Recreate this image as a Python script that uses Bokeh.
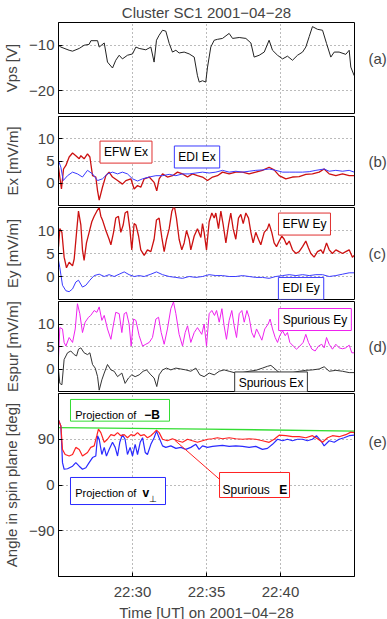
from bokeh.plotting import figure
from bokeh.layouts import column
from bokeh.models import Range1d, FixedTicker, Label, BoxAnnotation, LinearAxis
from bokeh.embed import file_html
from bokeh.resources import INLINE

# ---------------- data (time in minutes after 22:25 UT, 2001-04-28) ----------------
vps_t = [0, 0.16, 0.72, 0.95, 1.40, 1.73, 2.07, 2.19, 2.64, 2.75, 3.09, 3.31, 3.65, 3.87, 4.10, 4.32, 4.66, 5.00, 5.23, 5.45,
         5.90, 6.24, 6.46, 6.62, 6.80, 7.03, 7.25, 7.48, 7.70, 7.93, 8.15, 8.49, 8.83, 9.17, 9.39, 9.51, 9.73, 9.95, 10.07, 10.29,
         10.52, 10.74, 11.08, 11.53, 11.76, 12.21, 12.66, 13.00, 13.22, 13.56, 13.90, 14.23, 14.46, 14.80, 15.14, 15.47, 15.81, 16.15, 16.49, 16.71,
         16.94, 17.16, 17.50, 17.84, 18.11, 18.40, 18.63, 18.96, 19.41, 19.64, 19.75, 19.98]
vps_v = [-10, -10.4, -11.1, -11.3, -10.7, -10, -9.8, -9, -9, -10.4, -9.5, -13.7, -15, -13.3, -12.2, -13, -12.2, -11.9, -10.4, -10.7,
         -11, -10.4, -13.7, -8.9, -7.8, -6.7, -6.9, -9.6, -11.5, -11.1, -11.7, -11.5, -11.9, -12.6, -16.7, -18.1, -17.8, -18.1, -14.8, -10.4,
         -8.9, -8.7, -8.5, -7.4, -8.5, -8.3, -8.5, -9.5, -12.6, -12.2, -11.5, -8.9, -11.1, -12.2, -13, -12.4, -13.3, -12.2, -11.5, -10.4,
         -8.1, -5.9, -6.5, -6.7, -9.6, -12.6, -11.5, -11.5, -12, -11.1, -14.8, -16.7]

efw_ex_t = [0, 0.20, 0.34, 0.50, 0.72, 0.95, 1.17, 1.40, 1.51, 1.73, 1.96, 2.12, 2.30, 2.52, 2.64, 2.75, 2.97, 3.20, 3.42, 3.65,
            3.99, 4.32, 4.55, 4.89, 5.11, 5.34, 5.56, 5.79, 6.13, 6.46, 6.64, 6.80, 7.03, 7.36, 7.70, 8.04, 8.38, 8.72, 9.05, 9.39,
            9.73, 10.07, 10.41, 10.74, 11.08, 11.53, 11.98, 12.43, 12.88, 13.33, 13.78, 14.23, 14.57, 14.91, 15.36, 15.81, 16.26, 16.71, 17.16, 17.61,
            17.95, 18.29, 18.74, 19.19, 19.64, 19.98]
efw_ex_v = [3.6, -1.3, 3.2, 4.0, 5.9, 6.8, 6.2, 5.5, 6.2, 5.5, 6.6, 5.9, 1.7, 1.4, -1.7, -3.8, -0.9, 1.7, 2.5, 1.4,
            0.6, -0.2, 0.6, 1.0, -1.3, -0.5, -0.9, 1.0, 1.4, 0.2, -1.7, 1.0, 2.1, 1.4, 1.7, 2.5, 2.1, 1.4, 2.1, 1.7,
            1.4, 0.6, 1.4, 1.7, 2.5, 2.1, 2.5, 2.5, 2.1, 2.5, 2.9, 3.6, 3.0, 1.7, 1.0, 1.4, 1.5, 2.0, 2.1, 2.5,
            3.2, 2.1, 1.7, 2.1, 1.7, 1.7]

edi_ex_t = [0, 0.16, 0.32, 0.61, 0.95, 1.28, 1.62, 1.96, 2.30, 2.64, 2.97, 3.31, 3.65, 3.99, 4.32, 4.66, 5.00, 5.34, 5.68, 6.13,
            6.58, 7.03, 7.48, 7.93, 8.38, 8.83, 9.28, 9.73, 10.18, 10.63, 11.08, 11.53, 11.98, 12.43, 12.88, 13.33, 13.78, 14.23, 14.68, 15.14,
            15.59, 16.04, 16.49, 16.94, 17.39, 17.95, 18.29, 18.74, 19.19, 19.64, 19.98]
edi_ex_v = [5.1, 3.6, 0.6, 1.7, 2.5, 2.1, 1.4, 2.9, 2.1, 0.6, 1.0, 2.1, 2.5, 2.1, 2.5, 2.1, 1.0, 0.5, 1.0, 1.4,
            1.7, 1.7, 2.0, 1.7, 2.1, 2.1, 2.3, 2.5, 2.3, 2.5, 2.9, 2.5, 2.7, 2.5, 2.7, 2.9, 3.0, 3.2, 2.9, 2.5,
            2.5, 2.5, 2.5, 2.6, 2.9, 3.2, 2.7, 2.9, 2.7, 2.9, 2.5]

efw_ey_t = [0.00, 0.09, 0.23, 0.38, 0.54, 0.72, 0.95, 1.06, 1.22, 1.35, 1.51, 1.62, 1.73, 1.89, 2.07, 2.25, 2.41, 2.59, 2.75, 2.86,
            2.97, 3.20, 3.42, 3.54, 3.72, 3.87, 4.05, 4.21, 4.37, 4.50, 4.66, 4.82, 4.95, 5.11, 5.23, 5.41, 5.56, 5.79, 6.01, 6.24,
            6.46, 6.62, 6.80, 6.98, 7.14, 7.30, 7.48, 7.66, 7.82, 7.97, 8.15, 8.33, 8.49, 8.65, 8.83, 8.94, 9.17, 9.39, 9.62, 9.73,
            9.84, 10.00, 10.18, 10.36, 10.52, 10.63, 10.81, 10.97, 11.13, 11.31, 11.49, 11.64, 11.80, 11.98, 12.16, 12.32, 12.48, 12.66, 12.84, 13.00,
            13.15, 13.33, 13.51, 13.67, 13.90, 14.12, 14.23, 14.41, 14.57, 14.73, 14.91, 15.09, 15.25, 15.41, 15.59, 15.81, 16.04, 16.26, 16.49, 16.71,
            16.89, 17.05, 17.27, 17.50, 17.73, 17.88, 18.11, 18.29, 18.51, 18.74, 18.96, 19.19, 19.41, 19.64, 19.86, 19.98]
efw_ey_v = [6.5, 10.4, 9.6, 4.2, 1.9, 3.1, 2.3, 3.8, 9.6, 14.2, 11.2, 5.8, 3.5, 7.3, 9.6, 11.9, 13.1, 14.2, 15, 13.1,
            12.3, 10, 8.1, 6.9, 9.6, 12.7, 13.1, 9.6, 11.2, 13.8, 14.2, 10.4, 5.8, 11.5, 11.2, 8.8, 5.8, 4.6, 5.8, 5.4,
            8.1, 12.3, 12.7, 8.5, 5.4, 8.1, 10.4, 14.2, 15.4, 12.7, 8.1, 5.8, 7.3, 10, 8.1, 5.8, 8.8, 10.4, 8.5, 11.5,
            9.6, 5.8, 11.9, 13.8, 12.7, 13.8, 10.4, 14.2, 11.2, 7.3, 11.2, 13.8, 10.4, 8.1, 12.7, 13.5, 11.5, 13.8, 12.7, 9.6,
            7.3, 9.6, 8.1, 6.9, 9.6, 10.4, 11.5, 9.6, 7.3, 6.5, 7.7, 8.8, 8.1, 6.9, 7.7, 5.8, 5, 5.4, 6.5, 7.7,
            6.2, 5, 4.2, 5.4, 5.8, 5, 7.3, 5.8, 5, 5.8, 5.4, 5, 5.4, 5.8, 4.2, 4.6]

edi_ey_t = [0, 0.09, 0.27, 0.50, 0.72, 0.95, 1.17, 1.35, 1.62, 1.85, 2.12, 2.41, 2.75, 3.09, 3.42, 3.76, 4.10, 4.44, 4.77, 5.11,
            5.45, 5.79, 6.24, 6.62, 7.03, 7.48, 7.93, 8.38, 8.83, 9.28, 9.73, 10.18, 10.63, 11.08, 11.53, 11.98, 12.43, 12.88, 13.33, 13.78,
            14.23, 14.68, 15.14, 15.59, 16.04, 16.49, 16.94, 17.39, 17.84, 18.29, 18.74, 19.19, 19.64, 19.98]
edi_ey_v = [3.5, 1.9, -1.9, -3.1, -3.3, -2.7, -1.2, -0.8, -2.3, -1.9, -0.8, 0.2, 0.5, 0, 0.4, 0, 0.5, 1.0, 0.4, 0,
            0.2, 0, 0.5, 1.0, 0.4, 0, -0.2, -0.4, 0, -0.2, 0, 0.4, 0.2, 0.2, 0, 0, 0.2, 0, -0.2, -0.2,
            -0.4, 0, 0.2, 0.4, 0.2, 0.4, 0.2, 0.4, 0.4, 0, 0.2, 0.5, 0.8, 0.8]

spur_ey_t = [0.00, 0.09, 0.27, 0.38, 0.50, 0.72, 0.95, 1.13, 1.28, 1.44, 1.62, 1.80, 2.03, 2.18, 2.41, 2.59, 2.75, 2.93, 3.09, 3.31,
             3.54, 3.72, 3.87, 4.10, 4.28, 4.44, 4.59, 4.77, 4.91, 5.07, 5.23, 5.45, 5.68, 5.90, 6.13, 6.35, 6.58, 6.76, 6.94, 7.14,
             7.36, 7.59, 7.77, 7.93, 8.15, 8.38, 8.56, 8.72, 8.94, 9.17, 9.39, 9.68, 9.84, 10.00, 10.18, 10.36, 10.54, 10.68, 10.86, 11.04,
             11.19, 11.35, 11.53, 11.71, 11.87, 12.03, 12.21, 12.39, 12.55, 12.73, 12.88, 13.06, 13.22, 13.38, 13.56, 13.74, 13.94, 14.17, 14.30, 14.46,
             14.64, 14.80, 14.95, 15.14, 15.32, 15.47, 15.63, 15.86, 16.08, 16.31, 16.53, 16.71, 16.89, 17.12, 17.34, 17.57, 17.79, 17.95, 18.11, 18.29,
             18.51, 18.74, 18.96, 19.19, 19.41, 19.64, 19.82, 19.98]
spur_ey_v = [2.5, 9.2, 8.9, 5.9, 5.1, 7.0, 5.9, 8.9, 14.5, 12.3, 8.1, 10.4, 11.5, 11.9, 13.0, 12.6, 13.8, 10.8, 11.9, 8.9,
             6.6, 10, 12.6, 12.3, 8.1, 12.3, 12.6, 10, 5.1, 11.1, 10.8, 7.4, 5.1, 5.5, 5.9, 7.0, 11.1, 11.5, 8.1, 5.5,
             8.9, 13.4, 14.9, 12.3, 7.7, 5.1, 8.1, 9.6, 5.9, 8.1, 9.2, 7.7, 10, 5.1, 12.3, 13.0, 11.9, 13.0, 10.4, 13.4,
             9.6, 6.6, 10.8, 13.0, 9.6, 7.0, 12.3, 13.0, 10.4, 13.0, 11.5, 8.1, 7.0, 8.9, 7.7, 6.4, 8.9, 10, 11.1, 8.9,
             7.0, 5.9, 7.4, 8.5, 7.4, 8.1, 5.9, 5.1, 4.4, 5.1, 5.9, 7.7, 5.9, 4.4, 4.0, 5.1, 5.5, 4.7, 7.0, 5.5,
             4.4, 5.5, 4.7, 4.5, 4.7, 5.3, 3.6, 3.6]

spur_ex_t = [0.00, 0.09, 0.23, 0.38, 0.61, 0.83, 1.06, 1.22, 1.35, 1.51, 1.73, 1.96, 2.12, 2.30, 2.48, 2.64, 2.75, 2.93, 3.09, 3.31,
             3.54, 3.76, 3.99, 4.28, 4.50, 4.73, 4.95, 5.18, 5.45, 5.72, 5.95, 6.24, 6.46, 6.64, 6.80, 7.03, 7.30, 7.59, 7.93, 8.27,
             8.60, 8.94, 9.28, 9.55, 9.84, 10.18, 10.52, 10.86, 11.19, 11.53, 11.98, 12.43, 12.88, 13.33, 13.78, 14.12, 14.35, 14.57, 14.91, 15.36,
             15.81, 16.26, 16.71, 17.16, 17.61, 17.95, 18.29, 18.74, 19.19, 19.64, 19.98]
spur_ex_v = [-0.2, -3.2, -3.5, 2.1, 3.6, 4.0, 3.2, 2.9, 4.4, 4.7, 3.6, 3.2, 3.6, 1.0, 0.2, -1.7, -4.7, -2.4, -0.9, 1.0,
             -0.2, -0.5, -1.7, -0.9, -3.2, -2.0, -1.3, -1.7, -1.3, -0.5, -0.2, -1.3, -2.0, -3.9, -1.3, -0.2, 0.2, -0.2, 0.2, 0,
             -0.2, -0.5, 0.2, -1.3, -1.7, -0.9, -1.3, -0.5, -0.2, -0.5, -0.9, -0.8, -0.5, -0.3, 0.2, 0.6, 0.8, 0.2, -0.8, -1.1,
             -0.8, -0.5, -0.3, -0.2, 0, 0.5, -0.5, -0.3, -0.5, -0.8, -0.8]

ang_e_t = [0.00, 0.16, 0.27, 0.45, 0.72, 0.95, 1.17, 1.40, 1.62, 1.96, 2.18, 2.41, 2.59, 2.70, 2.86, 3.09, 3.31, 3.54, 3.76, 3.99,
           4.21, 4.44, 4.66, 4.89, 5.11, 5.34, 5.56, 5.79, 6.01, 6.24, 6.46, 6.62, 6.80, 7.03, 7.36, 7.70, 8.04, 8.38, 8.72, 9.05,
           9.39, 9.73, 10.07, 10.41, 10.74, 11.08, 11.53, 11.98, 12.43, 12.88, 13.33, 13.78, 14.23, 14.57, 14.91, 15.36, 15.81, 16.26, 16.71, 17.16,
           17.50, 17.84, 18.18, 18.51, 18.96, 19.41, 19.75, 19.98]
ang_e_v = [128, 116, 70, 60, 57, 60, 74, 70, 57, 64, 74, 77, 97, 110, 103, 84, 90, 99, 97, 103,
           97, 99, 93, 99, 97, 103, 97, 99, 93, 97, 103, 108, 103, 90, 87, 91, 87, 84, 90, 87,
           84, 87, 90, 91, 93, 91, 93, 91, 90, 91, 90, 87, 84, 90, 98, 97, 95, 95, 93, 97,
           91, 84, 93, 97, 95, 99, 104, 103]

ang_v_t = [0.00, 0.16, 0.27, 0.38, 0.61, 0.95, 1.17, 1.40, 1.62, 1.85, 2.07, 2.30, 2.52, 2.64, 2.75, 2.93, 3.09, 3.24, 3.42, 3.65,
           3.83, 3.99, 4.14, 4.32, 4.50, 4.66, 4.84, 5.00, 5.18, 5.34, 5.52, 5.68, 5.86, 6.01, 6.24, 6.46, 6.62, 6.80, 7.03, 7.25,
           7.59, 7.93, 8.27, 8.60, 8.94, 9.28, 9.50, 9.73, 10.07, 10.41, 10.74, 11.08, 11.53, 11.98, 12.43, 12.88, 13.33, 13.78, 14.12, 14.46,
           14.80, 15.14, 15.47, 15.81, 16.15, 16.49, 16.82, 17.16, 17.43, 17.73, 17.95, 18.29, 18.63, 18.96, 19.30, 19.64, 19.98]
ang_v_v = [128, 116, 44, 31, 32, 37, 44, 37, 31, 34, 44, 54, 57, 97, 90, 60, 74, 57, 70, 84,
           74, 57, 84, 99, 90, 60, 74, 57, 80, 60, 84, 93, 64, 60, 80, 93, 106, 93, 77, 74,
           77, 72, 74, 70, 74, 80, 70, 77, 74, 76, 77, 78, 76, 77, 76, 74, 76, 70, 72, 80,
           90, 87, 90, 87, 90, 90, 87, 90, 97, 87, 77, 87, 84, 90, 93, 97, 98]

ang_b_t = [0.0, 10.0, 20.0]
ang_b_v = [113, 110, 106]

# time axis: minutes after 22:00 UT
T_START = 25
T_END = 45
x_ticks = [30, 35, 40]
x_tick_labels = ["22:30", "22:35", "22:40"]

# annotation anchors (minutes after 22:25, data value)
spur_e_leader_t = [7.86, 10.97]
spur_e_leader_v = [88, 9]

FONT = "Liberation Sans"


def tx(ms):
    return [T_START + m for m in ms]


def make_fig(ylo, yhi, yticks, ylabel, frame_h, top, bottom, label_standoff,
             tag_text, tag_value, overrides=None, show_x=False):
    p = figure(frame_width=296, frame_height=frame_h,
               x_range=Range1d(T_START, T_END), y_range=Range1d(ylo, yhi),
               output_backend="svg", toolbar_location=None,
               min_border_left=56, min_border_right=35,
               min_border_top=top, min_border_bottom=bottom)
    p.outline_line_color = "black"
    p.outline_line_width = 1
    p.outline_line_alpha = 1
    p.background_fill_color = "white"
    p.border_fill_color = "white"
    for g in (p.xgrid, p.ygrid):
        g.grid_line_color = "#777777"
        g.grid_line_dash = "1 3"
        g.grid_line_width = 1
    p.xgrid.ticker = FixedTicker(ticks=x_ticks)
    p.ygrid.ticker = FixedTicker(ticks=yticks)
    ya = p.yaxis[0]
    ya.ticker = FixedTicker(ticks=yticks)
    ya.axis_label = ylabel
    ya.axis_label_text_font = FONT
    ya.axis_label_text_font_size = "15px"
    ya.axis_label_text_font_style = "normal"
    ya.axis_label_standoff = label_standoff
    ya.major_label_text_font = FONT
    ya.major_label_text_font_size = "15px"
    ya.major_label_standoff = 4
    ya.major_tick_in = 4
    ya.major_tick_out = 0
    ya.minor_tick_line_color = None
    ya.axis_line_color = "black"
    if overrides:
        ya.major_label_overrides = overrides
    # right-hand panel tag, e.g. "(a)"
    ra = LinearAxis(ticker=FixedTicker(ticks=[tag_value]),
                    major_label_overrides={tag_value: tag_text},
                    major_tick_line_color=None, minor_tick_line_color=None,
                    major_tick_in=0, major_tick_out=0, minor_tick_in=0, minor_tick_out=0,
                    axis_line_color=None, major_label_standoff=14,
                    major_label_text_font=FONT, major_label_text_font_size="15px")
    p.add_layout(ra, "right")
    xa = p.xaxis[0]
    if show_x:
        xa.ticker = FixedTicker(ticks=x_ticks)
        xa.major_label_overrides = dict(zip(x_ticks, x_tick_labels))
        xa.axis_label = "Time [UT] on 2001\u221204\u221228"
        xa.axis_label_text_font = FONT
        xa.axis_label_text_font_size = "15px"
        xa.axis_label_text_font_style = "normal"
        xa.axis_label_standoff = 1
        xa.major_label_text_font = FONT
        xa.major_label_text_font_size = "15px"
        xa.major_label_standoff = 6
        xa.major_tick_in = 4
        xa.major_tick_out = 0
        xa.minor_tick_line_color = None
    else:
        xa.visible = False
    return p


def boxlabel(p, text, t, v, color):
    p.add_layout(Label(x=T_START + t, y=v, text=text, text_align="center", text_baseline="middle",
                       text_font=FONT, text_font_size="12px", text_color="black",
                       border_line_color=color, border_line_width=1, border_line_alpha=1,
                       background_fill_color="white", background_fill_alpha=1, padding=4))


def txt(p, text, t, v, size="12px", bold=False):
    p.add_layout(Label(x=T_START + t, y=v, text=text, text_align="left", text_baseline="alphabetic",
                       text_font=FONT, text_font_size=size, text_color="black",
                       text_font_style="bold" if bold else "normal"))


# (a) spacecraft potential
pa = make_fig(-25, -5, [-20, -10], "Vps [V]", 91, 22, 1, 6, "(a)", -13,
              {-20: "\u221220", -10: "\u221210"})
pa.title.text = "Cluster SC1 2001\u221204\u221228"
pa.title.align = "center"
pa.title.vertical_align = "top"
pa.title.text_font = FONT
pa.title.text_font_size = "15px"
pa.title.text_font_style = "normal"
pa.title.standoff = 0
pa.line(tx(vps_t), vps_v, color="#222222", line_width=1)

# (b) Ex
pb = make_fig(-5, 15, [0, 5, 10], "Ex [mV/m]", 89, 2, 1, 14, "(b)", 5)
pb.line(tx(efw_ex_t), efw_ex_v, color="#cc1111", line_width=1.3)
pb.line(tx(edi_ex_t), edi_ex_v, color="#3a3aff", line_width=1)
boxlabel(pb, "EFW Ex", 4.56, 7.0, "#e03030")
boxlabel(pb, "EDI Ex", 9.36, 5.9, "#3a3aff")

# (c) Ey
pc = make_fig(-5, 15, [0, 5, 10], "Ey [mV/m]", 92, 1, 1, 14, "(c)", 5)
pc.line(tx(efw_ey_t), efw_ey_v, color="#cc1111", line_width=1.3)
pc.line(tx(edi_ey_t), edi_ey_v, color="#3a3aff", line_width=1)
boxlabel(pc, "EFW Ey", 16.62, 11.4, "#e03030")
boxlabel(pc, "EDI Ey", 16.39, -2.6, "#3a3aff")

# (d) spurious field
pd_ = make_fig(-5, 15, [0, 5, 10], "Espur [mV/m]", 90, 1, 1, 14, "(d)", 5)
pd_.line(tx(spur_ey_t), spur_ey_v, color="#ee22ee", line_width=1)
pd_.line(tx(spur_ex_t), spur_ex_v, color="#333333", line_width=1)
boxlabel(pd_, "Spurious Ey", 17.33, 11.0, "#ee22ee")
boxlabel(pd_, "Spurious Ex", 14.36, -3.1, "#333333")

# (e) angles
pe = make_fig(-180, 180, [-90, 0, 90], "Angle in spin plane [deg]", 183, 1, 43, 6, "(e)", 85,
              {-90: "\u221290"}, show_x=True)
pe.line(tx(ang_b_t), ang_b_v, color="#33dd33", line_width=1.3)
pe.line(tx(ang_v_t), ang_v_v, color="#2a2aff", line_width=1.2)
pe.line(tx(ang_e_t), ang_e_v, color="#ff2222", line_width=1.2)
pe.line(tx(spur_e_leader_t), spur_e_leader_v, color="#ff2222", line_width=1)

pe.add_layout(BoxAnnotation(left=T_START + 0.81, right=T_START + 7.50, bottom=125.6, top=168.3,
                            fill_color="white", fill_alpha=1, line_color="#33dd33", line_alpha=1, line_width=1))
txt(pe, "Projection of", 1.13, 136.8, size="11px")
txt(pe, "\u2212B", 5.79, 136.8, bold=True)

pe.add_layout(BoxAnnotation(left=T_START + 0.81, right=T_START + 7.23, bottom=-38.4, top=14.8,
                            fill_color="white", fill_alpha=1, line_color="#2a2aff", line_alpha=1, line_width=1))
txt(pe, "Projection of", 1.13, -16.1, size="11px")
txt(pe, "v", 5.68, -16.1, bold=True)
txt(pe, "\u22a5", 6.12, -28.5, size="9px")

pe.add_layout(BoxAnnotation(left=T_START + 10.88, right=T_START + 15.61, bottom=-24.6, top=24.6,
                            fill_color="white", fill_alpha=1, line_color="#ff2222", line_alpha=1, line_width=1))
txt(pe, "Spurious", 11.08, -10.8)
txt(pe, "E", 14.91, -10.8, bold=True)

layout = column(pa, pb, pc, pd_, pe, spacing=0)
open("out.html", "w").write(file_html(layout, INLINE))
